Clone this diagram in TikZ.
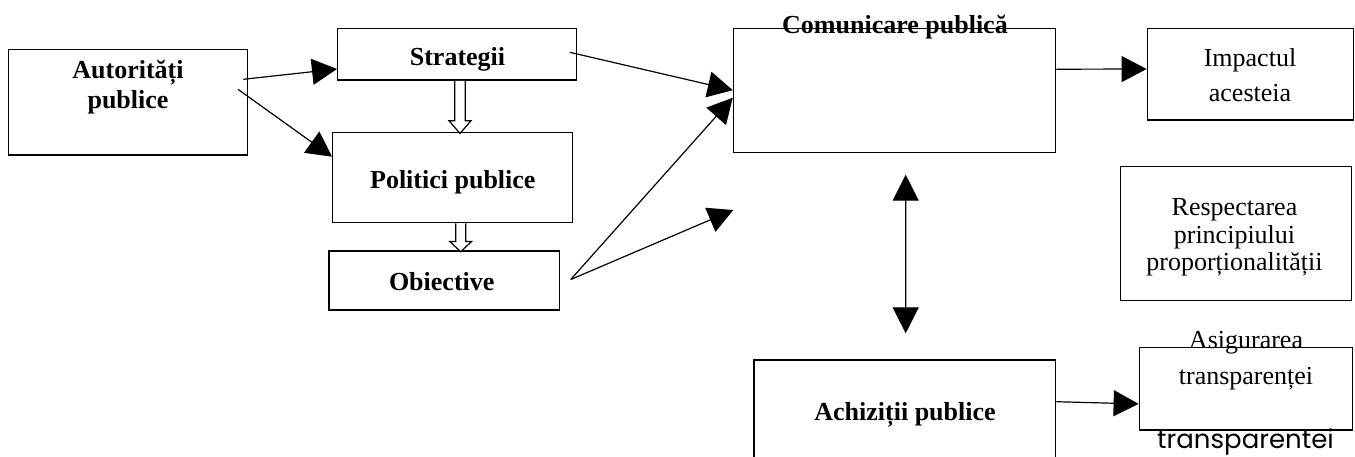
\documentclass[tikz,border=0pt]{standalone}
\usepackage{fontspec}
\setmainfont{Liberation Serif}
\newfontfamily\gothic{Poppins}
\usetikzlibrary{arrows.meta}

\begin{document}
\begin{tikzpicture}[
    x=0.5pt, y=-0.5pt,
    box/.style n args={2}{draw, line width=0.7pt, minimum width=#1,
                minimum height=#2, inner sep=0pt},
    txt/.style={font=\fontsize{13}{15}\selectfont, align=center,
                inner sep=0pt, anchor=base},
    btxt/.style={txt, font=\fontsize{13}{14.7}\selectfont\bfseries},
    arrow/.style={-{Triangle[length=12.5pt, width=13pt]}, line width=0.6pt},
    dblarrow/.style={{Triangle[length=13pt, width=13pt]}-{Triangle[length=13pt, width=13pt]},
                line width=0.6pt},
    hollow/.style={draw, line width=0.6pt, fill=white}
]
    \useasboundingbox (0,0) rectangle (1355,456);

    % --- boxes ---
    \node[box={119.7pt}{52.85pt}] (aut) at (128,102.2) {};
    \node[box={119.5pt}{25.85pt}] (strat) at (457.2,54.2) {};
    \node[box={119.8pt}{45pt}] (pol) at (452.5,177.7) {};
    \node[box={115.15pt}{29.5pt}] (obj) at (444.2,280.5) {};
    \node[box={161.1pt}{62pt}] (com) at (894.6,90.2) {};
    \node[box={103pt}{45.85pt}] (imp) at (1250.3,74.2) {};
    \node[box={115.5pt}{67pt}] (resp) at (1236.2,233.7) {};
    \node[box={106.5pt}{41.4pt}] (asig) at (1245.8,388.7) {};
    \node[box={150.8pt}{55pt}] (achiz) at (904.9,415) {};

    % --- texts (base = last line) ---
    \node[btxt] (autT) at (128,108.3) {Autorități\\publice};
    \node[btxt] (stratT) at (457.5,65) {Strategii};
    \node[btxt] (polT) at (452.8,188.3) {Politici publice};
    \node[btxt] (objT) at (441.7,290) {Obiective};
    \node[btxt] (comT) at (895,33.3) {Comunicare publică};
    \node[txt] (impT) at (1250,101.7) {Impactul\\[2.5pt]acesteia};
    \node[txt, font=\fontsize{13}{13.75}\selectfont] (respT) at (1234.5,270.5)
        {Respectarea\\principiului\\proporționalității};
    \node[txt] (asigT) at (1246,384.2) {Asigurarea\\[2.7pt]transparenței};
    \node[btxt] (achizT) at (905,420.7) {Achiziții publice};
    \node[txt, font=\fontsize{13}{15}\gothic] (transT) at (1245.5,448.5) {transparentei};

    \coordinate (comIn) at (733.3,210);

    % --- connectors ---
    \draw[arrow] ([xshift=-2.5pt, yshift=11.45pt]aut.east) -- ([yshift=-7.4pt]strat.west);
    \draw[arrow] ([xshift=-5.2pt, yshift=6.45pt]aut.east) -- ([yshift=10.5pt]pol.west);
    \draw[arrow] ([xshift=-3.8pt, yshift=0.95pt]strat.east) -- (com.west);
    \draw[arrow] ([xshift=5.35pt, yshift=0.5pt]obj.east) -- ([yshift=-3.75pt]com.west);
    \draw[arrow] ([xshift=5.35pt, yshift=0.5pt]obj.east) -- (comIn);
    \draw[arrow] ([yshift=10.5pt]com.east) -- ([yshift=2.6pt]imp.west);
    \draw[dblarrow] ([xshift=5.55pt, yshift=-10.9pt]com.south) -- ([xshift=0.4pt, yshift=13pt]achiz.north);
    \draw[arrow] ([yshift=6.65pt]achiz.east) -- ([yshift=-7.6pt]asig.west);

    % hollow block arrows
    \draw[hollow] ([xshift=-1.25pt]strat.south) -- ++(0,-20pt) -- ++(-2.85pt,0)
        -- ++(5.5pt,-6.35pt) -- ++(5.5pt,6.35pt) -- ++(-2.85pt,0) -- ++(0,20pt);
    \draw[hollow] ([xshift=1.6pt]pol.south) -- ++(0,-9pt) -- ++(-3pt,0)
        -- ++(5.5pt,-5.15pt) -- ++(5.5pt,5.15pt) -- ++(-3pt,0) -- ++(0,9pt);
\end{tikzpicture}
\end{document}
